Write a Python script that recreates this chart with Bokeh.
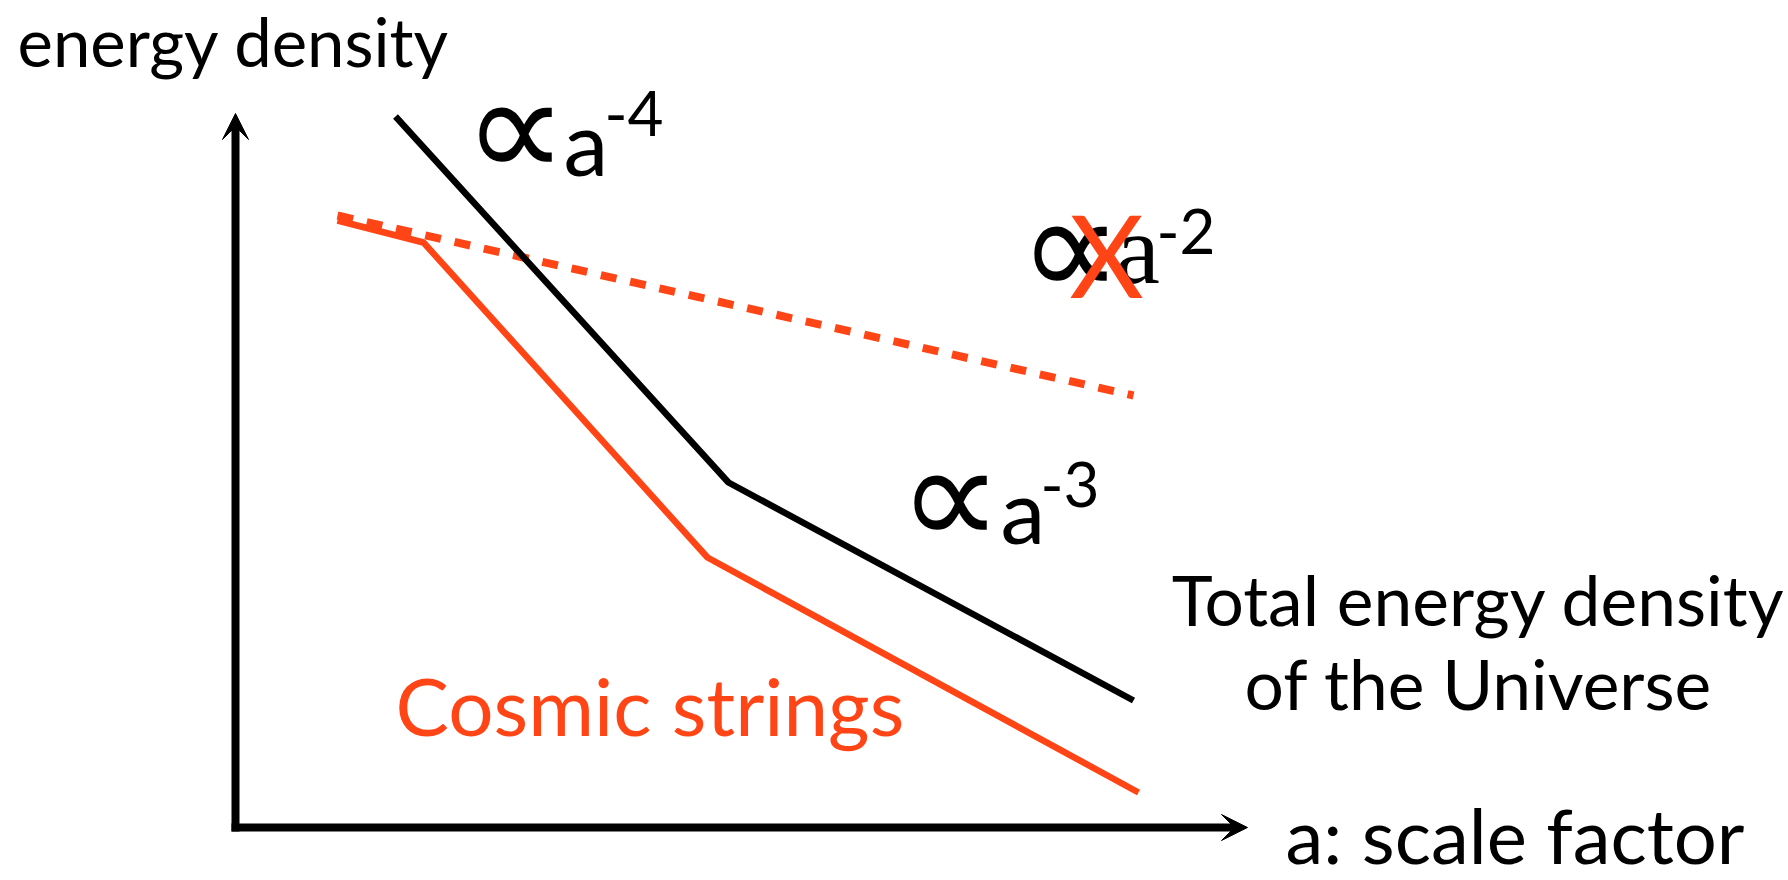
from bokeh.plotting import figure
from bokeh.models import Range1d, Arrow, VeeHead, Label
from bokeh.embed import file_html
from bokeh.resources import INLINE

# Schematic evolution of energy density with scale factor (arbitrary units)
RED = "#FF4516"

# total energy density of the Universe: radiation (a^-4) then matter (a^-3)
total_a = [1.60, 4.93, 8.98]
total_rho = [7.11, 3.45, 1.27]

# cosmic strings network (scaling: tracks the background)
strings_a = [1.02, 1.88, 4.72, 9.03]
strings_rho = [6.07, 5.85, 2.70, 0.35]

# naive non-scaling string behaviour, rho ∝ a^-2
naive_a = [1.02, 8.98]
naive_rho = [6.12, 4.32]

# axis extents
axis_a_max = 10.12
axis_rho_max = 7.14

p = figure(width=1788, height=880,
           x_range=Range1d(-2.35, 15.53), y_range=Range1d(-0.53, 8.27),
           x_axis_type=None, y_axis_type=None,
           output_backend="svg", toolbar_location=None, min_border=0)
p.grid.visible = False
p.outline_line_color = None
p.background_fill_color = "white"
p.border_fill_color = "white"

# axes with arrow heads
p.add_layout(Arrow(x_start=0, y_start=-0.04, x_end=0, y_end=axis_rho_max,
                   line_width=8, line_color="black",
                   end=VeeHead(size=26, fill_color="black", line_color="black", line_width=1)))
p.add_layout(Arrow(x_start=-0.04, y_start=0, x_end=axis_a_max, y_end=0,
                   line_width=8, line_color="black",
                   end=VeeHead(size=26, fill_color="black", line_color="black", line_width=1)))

p.line(naive_a, naive_rho, line_color=RED, line_width=8, line_dash="16 14")
p.line(total_a, total_rho, line_color="black", line_width=6.5)
p.line(strings_a, strings_rho, line_color=RED, line_width=6.5)

def label(x, y, text, size, color="black", font="Lato", align="left"):
    p.add_layout(Label(x=x, y=y, text=text, text_font=font,
                       text_font_size=f"{size}px", text_color=color,
                       text_align=align, text_baseline="alphabetic"))

label(-2.18, 7.87, "energy density", 67)
label(1.60, 1.23, "Cosmic strings", 80, color=RED)
label(12.43, 2.29, "Total energy density", 69.5, align="center")
label(12.43, 1.45, "of the Universe", 69.5, align="center")
label(10.50, -0.07, "a: scale factor", 76)

# power-law annotations
label(2.80, 7.00, "∝", 145, font="DejaVu Sans", align="center")
label(3.28, 6.87, "a", 90)
label(3.69, 7.14, "-4", 62)

label(7.15, 3.32, "∝", 145, font="DejaVu Sans", align="center")
label(7.65, 3.19, "a", 90)
label(8.05, 3.43, "-3", 62)

label(8.35, 5.81, "∝", 145, font="DejaVu Sans", align="center")
label(8.80, 5.78, "a", 100, font="'Liberation Serif', 'DejaVu Serif', serif")
label(9.21, 5.96, "-2", 62)
label(8.71, 5.75, "X", 115, color=RED, align="center")

open("out.html", "w").write(file_html(p, INLINE))
